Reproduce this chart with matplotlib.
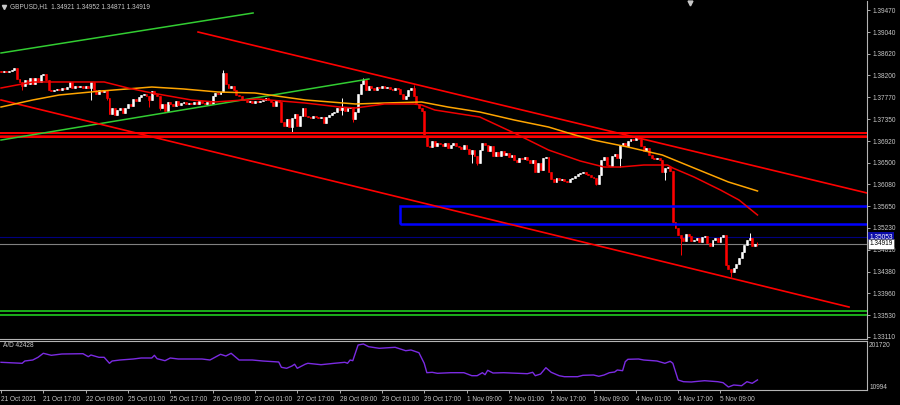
import numpy as np
import matplotlib.pyplot as plt
from matplotlib.patches import Rectangle

plt.rcParams['font.family'] = ['Liberation Sans', 'DejaVu Sans']

# GBPUSD H1 closes, 21 Oct 2021 01:00 .. 5 Nov 2021 23:00 (one per bar)
closes = [
    1.38264, 1.38284, 1.38264, 1.38284, 1.38303, 1.38342, 1.38128, 1.38070, 1.37992, 1.38109,
    1.38031, 1.38148, 1.38031, 1.38148, 1.38070, 1.38206, 1.38225, 1.38109, 1.37914, 1.37895,
    1.37914, 1.37934, 1.37914, 1.37953, 1.37934, 1.37972, 1.38070, 1.37953, 1.37992, 1.37972,
    1.37992, 1.37953, 1.37992, 1.37953, 1.38070, 1.37914, 1.37836, 1.37914, 1.37875, 1.37914,
    1.37758, 1.37447, 1.37564, 1.37428, 1.37525, 1.37564, 1.37467, 1.37564, 1.37642, 1.37603,
    1.37739, 1.37700, 1.37778, 1.37817, 1.37836, 1.37797, 1.37720, 1.37895, 1.37836, 1.37797,
    1.37564, 1.37642, 1.37506, 1.37681, 1.37642, 1.37603, 1.37700, 1.37622, 1.37661, 1.37681,
    1.37642, 1.37661, 1.37642, 1.37681, 1.37642, 1.37700, 1.37661, 1.37642, 1.37681, 1.37642,
    1.37797, 1.37856, 1.37836, 1.37875, 1.38245, 1.38031, 1.37953, 1.37992, 1.37914, 1.37817,
    1.37797, 1.37739, 1.37720, 1.37681, 1.37700, 1.37661, 1.37700, 1.37681, 1.37700, 1.37720,
    1.37758, 1.37720, 1.37681, 1.37603, 1.37720, 1.37681, 1.37292, 1.37214, 1.37350, 1.37194,
    1.37369, 1.37447, 1.37214, 1.37408, 1.37564, 1.37408, 1.37389, 1.37369, 1.37408, 1.37389,
    1.37369, 1.37389, 1.37272, 1.37389, 1.37428, 1.37467, 1.37486, 1.37564, 1.37525, 1.37583,
    1.37506, 1.37564, 1.37583, 1.37350, 1.37486, 1.37836, 1.38031, 1.38109, 1.37914, 1.37992,
    1.37953, 1.37914, 1.37972, 1.37953, 1.37992, 1.37953, 1.37972, 1.37934, 1.37914, 1.37953,
    1.37934, 1.37836, 1.37739, 1.37797, 1.37914, 1.37953, 1.37797, 1.37642, 1.37564, 1.37506,
    1.37019, 1.36825, 1.36805, 1.36922, 1.36825, 1.36883, 1.36864, 1.36825, 1.36883, 1.36786,
    1.36844, 1.36883, 1.36825, 1.36805, 1.36766, 1.36844, 1.36766, 1.36669, 1.36747, 1.36630,
    1.36494, 1.36747, 1.36883, 1.36844, 1.36728, 1.36825, 1.36630, 1.36708, 1.36630, 1.36728,
    1.36650, 1.36689, 1.36611, 1.36650, 1.36553, 1.36514, 1.36591, 1.36572, 1.36611, 1.36553,
    1.36494, 1.36553, 1.36319, 1.36494, 1.36358, 1.36591, 1.36611, 1.36319, 1.36183, 1.36125,
    1.36202, 1.36164, 1.36183, 1.36144, 1.36125, 1.36183, 1.36202, 1.36241, 1.36280, 1.36300,
    1.36319, 1.36280, 1.36261, 1.36222, 1.36202, 1.36086, 1.36261, 1.36553, 1.36611, 1.36455,
    1.36436, 1.36630, 1.36669, 1.36591, 1.36844, 1.36883, 1.36825, 1.36922, 1.36960, 1.36941,
    1.36980, 1.36960, 1.36825, 1.36728, 1.36786, 1.36650, 1.36591, 1.36572, 1.36591, 1.36553,
    1.36319, 1.36397, 1.36416, 1.36339, 1.35346, 1.35230, 1.35094, 1.35035, 1.34977, 1.35113,
    1.35074, 1.34977, 1.34997, 1.35035, 1.34958, 1.35055, 1.35074, 1.34938, 1.34880, 1.34997,
    1.35035, 1.34958, 1.35055, 1.35094, 1.34511, 1.34433, 1.34374, 1.34452, 1.34530, 1.34647,
    1.34764, 1.34899, 1.34997, 1.35035, 1.34880, 1.34921, 1.34919,
]
first_open = 1.38284
# visible wicks (bar index -> price)
wick_high = {84: 1.38303, 129: 1.37758, 137: 1.38148, 156: 1.38011, 283: 1.35133, 286: 1.34952}
wick_low = {8: 1.37914, 34: 1.37720, 40: 1.37720, 56: 1.37583, 60: 1.37525, 110: 1.37097,
            129: 1.37428, 133: 1.37292, 178: 1.36494, 180: 1.36455, 225: 1.36066, 234: 1.36416,
            251: 1.36164, 257: 1.34705, 276: 1.34277, 286: 1.34871}

# moving averages
ma_red_bars = [0, 12, 39, 48, 57, 72, 81, 97, 115, 128, 134, 145, 156, 159, 164, 181, 194, 207,
               219, 228, 234, 243, 252, 254, 262, 272, 279, 286]
ma_red = [1.37953, 1.38070, 1.38070, 1.37953, 1.37856, 1.37720, 1.37681, 1.37739, 1.37661, 1.37583,
          1.37564, 1.37642, 1.37642, 1.37622, 1.37525, 1.37389, 1.37078, 1.36747, 1.36533, 1.36416,
          1.36416, 1.36455, 1.36455, 1.36397, 1.36222, 1.35969, 1.35775, 1.35483]
ma_orange_bars = [0, 12, 22, 38, 57, 69, 82, 96, 115, 134, 145, 159, 169, 181, 194, 207, 217, 224,
                  237, 250, 262, 275, 286]
ma_orange = [1.37583, 1.37720, 1.37817, 1.37895, 1.37972, 1.37934, 1.37875, 1.37856, 1.37720, 1.37642,
             1.37661, 1.37681, 1.37583, 1.37486, 1.37331, 1.37194, 1.37039, 1.36941, 1.36805, 1.36650,
             1.36397, 1.36125, 1.35950]

# drawn objects: trendline anchors (bar, price)
green_upper = ([0, 95.3], [1.38634, 1.39412])
green_lower = ([0, 139.1], [1.36941, 1.38128])
red_chan_top = ([74.5, 329], [1.39042, 1.35891])
red_chan_bottom = ([0, 320.6], [1.37720, 1.33693])
red_levels = [1.37078, 1.36994]
red_level_mid = 1.37039
green_levels = [1.33606, 1.33538]
blue_zone_start = 151
blue_zone = [1.35308, 1.35658]
bid = 1.34919
ask = 1.35053

price_ticks = [1.39470, 1.39040, 1.38620, 1.38200, 1.37770, 1.37350, 1.36920, 1.36500,
               1.36080, 1.35650, 1.35230, 1.34810, 1.34380, 1.33960, 1.33530, 1.33110]
date_ticks = list(range(0, 273, 16))
date_labels = ['21 Oct 2021', '21 Oct 17:00', '22 Oct 09:00', '25 Oct 01:00', '25 Oct 17:00',
               '26 Oct 09:00', '27 Oct 01:00', '27 Oct 17:00', '28 Oct 09:00', '29 Oct 01:00',
               '29 Oct 17:00', '1 Nov 09:00', '2 Nov 01:00', '2 Nov 17:00', '3 Nov 09:00',
               '4 Nov 01:00', '4 Nov 17:00', '5 Nov 09:00']

# Accumulation/Distribution
ad_bars = [0, 8, 9, 12, 14, 16, 19, 23, 31, 33, 34, 37, 39, 41, 42, 45, 50, 53, 57, 58,
           59, 62, 64, 67, 76, 79, 83, 85, 87, 90, 95, 99, 105, 106, 108, 110, 111, 112, 115, 116,
           121, 126, 130, 131, 132, 133, 135, 137, 139, 143, 149, 153, 155, 158, 160, 161, 163, 165, 170, 175,
           178, 180, 182, 183, 184, 186, 190, 199, 201, 202, 204, 206, 208, 211, 213, 218, 220, 224, 226, 228,
           230, 232, 233, 235, 236, 237, 241, 243, 248, 251, 253, 254, 255, 256, 258, 261, 262, 266, 271, 273,
           275, 277, 280, 282, 284, 286]
ad_values = [120550, 116115, 126316, 130752, 142728, 160470, 151599, 157365, 158696, 145389,
             152929, 142728, 142728, 116115, 126316, 130752, 135187, 139623, 139623, 151599,
             136518, 127647, 139623, 135187, 135187, 130752, 156034, 148494, 160470, 130752,
             130752, 126316, 121881, 98373, 93938, 104139, 112010, 93938, 112010, 116115,
             109905, 116115, 120550, 116115, 130752, 127647, 197285, 201720, 189744, 182647,
             187083, 172002, 175107, 163131, 116115, 74421, 76195, 71760, 74421, 74421,
             61114, 61114, 74421, 65550, 85065, 73091, 74421, 69986, 76195, 61114,
             68655, 96599, 76195, 61114, 56678, 56678, 62888, 64220, 58454, 64220,
             74421, 77526, 86397, 83292, 123212, 133857, 135187, 130752, 126316, 116115,
             124985, 116115, 78857, 42042, 34501, 33171, 34501, 38937, 34501, 30066,
             10994, 19865, 16760, 34501, 27405, 42428]

fg = '#C8C8C8'
fs = 4.7

fig = plt.figure(figsize=(9, 4.05), dpi=100, facecolor='black')
ax = fig.add_axes([0, 1 - 339 / 405, 867 / 900, 338 / 405], facecolor='black')
ax2 = fig.add_axes([0, 1 - 390 / 405, 867 / 900, 49 / 405], facecolor='black')

# candles
idx = np.arange(len(closes))
opens = [first_open] + closes[:-1]
highs = [wick_high.get(i, max(o, c)) for i, (o, c) in enumerate(zip(opens, closes))]
lows = [wick_low.get(i, min(o, c)) for i, (o, c) in enumerate(zip(opens, closes))]
cols = ['#FFFFFF' if c >= o else '#FF0000' for o, c in zip(opens, closes)]
ax.vlines(idx, lows, highs, colors=cols, lw=0.7, zorder=2)
ax.bar(idx, np.array(closes) - np.array(opens), bottom=opens, width=0.72,
       color=cols, edgecolor=cols, linewidth=0.4, zorder=3)

# levels and objects
ax.axhline(bid, color='#808080', lw=0.8, zorder=1)
ax.axhline(ask, color='#000080', lw=0.8, zorder=1)
for lv in red_levels:
    ax.axhline(lv, color='#FF0000', lw=1.4, zorder=4)
ax.axhline(red_level_mid, color='#B00000', lw=0.7, zorder=4)
for lv in green_levels:
    ax.axhline(lv, color='#22DD22', lw=1.1, zorder=4)
ax.add_patch(Rectangle((blue_zone_start, blue_zone[0]), 400, blue_zone[1] - blue_zone[0],
                       fill=False, ec='#0000FF', lw=1.8, zorder=4))

ax.plot(*green_upper, color='#32CD32', lw=1.1, zorder=5)
ax.plot(*green_lower, color='#32CD32', lw=1.1, zorder=5)
ax.plot(*red_chan_top, color='#FF0000', lw=1.2, zorder=5)
ax.plot(*red_chan_bottom, color='#FF0000', lw=1.2, zorder=5)
ax.plot(ma_orange_bars, ma_orange, color='#FFA500', lw=1.1, zorder=5)
ax.plot(ma_red_bars, ma_red, color='#F00000', lw=1.1, zorder=5)

ax.set_xlim(-0.38, 327.4)
ax.set_ylim(1.330710, 1.396451)
ax.set_xticks([])
ax.yaxis.tick_right()
ax.set_yticks(price_ticks)
ax.set_yticklabels([f'{p:.5f}' for p in price_ticks])
ax.tick_params(axis='y', colors=fg, labelsize=fs, length=2.5, width=0.6, pad=1.5)
for s in ['left', 'top']:
    ax.spines[s].set_visible(False)
for s in ['right', 'bottom']:
    ax.spines[s].set_color('#B4B4B4')
    ax.spines[s].set_linewidth(0.8)

# price boxes on the scale
tr = ax.get_yaxis_transform()
ax.text(1.003, ask, f'{ask:.5f}', transform=tr, fontsize=fs, color='white', va='center', ha='left',
        bbox=dict(boxstyle='square,pad=0.2', fc='#0A0AA8', ec='none'), clip_on=False, zorder=10)
ax.text(1.003, bid, f'{bid:.5f}', transform=tr, fontsize=fs, color='black', va='center', ha='left',
        bbox=dict(boxstyle='square,pad=0.2', fc='white', ec='#404040', lw=0.4), clip_on=False, zorder=11)

# header
ax.plot([4 / 867], [1 - 6 / 338], marker='v', ms=3, color=fg, transform=ax.transAxes, clip_on=False)
ax.text(10 / 867, 1 - 6 / 338, 'GBPUSD,H1  1.34921 1.34952 1.34871 1.34919', transform=ax.transAxes,
        fontsize=fs, color=fg, va='center', ha='left')
ax.plot([690 / 867], [1 - 2 / 338], marker='v', ms=3.5, color=fg, transform=ax.transAxes, clip_on=False)

# A/D panel
ax2.plot(ad_bars, ad_values, color='#7B2BE2', lw=1.0)
ax2.set_xlim(-0.38, 327.4)
ax2.set_ylim(-2313, 215027)
ax2.yaxis.tick_right()
ax2.set_yticks([201720, 10994])
ax2.set_yticklabels(['201720', '10994'])
ax2.tick_params(axis='y', colors=fg, labelsize=fs, length=0, pad=1.5)
ax2.set_xticks(date_ticks)
ax2.set_xticklabels(date_labels)
ax2.tick_params(axis='x', colors=fg, labelsize=fs, length=2.5, width=0.6, pad=1.5)
for lbl in ax2.get_xticklabels():
    lbl.set_ha('left')
ax2.spines['left'].set_visible(False)
for s in ['right', 'bottom', 'top']:
    ax2.spines[s].set_color('#B4B4B4')
    ax2.spines[s].set_linewidth(0.8)
ax2.text(3 / 867, 0.9, 'A/D 42428', transform=ax2.transAxes, fontsize=fs, color=fg, va='center', ha='left')

fig.savefig('out.png', dpi=100, facecolor='black')
